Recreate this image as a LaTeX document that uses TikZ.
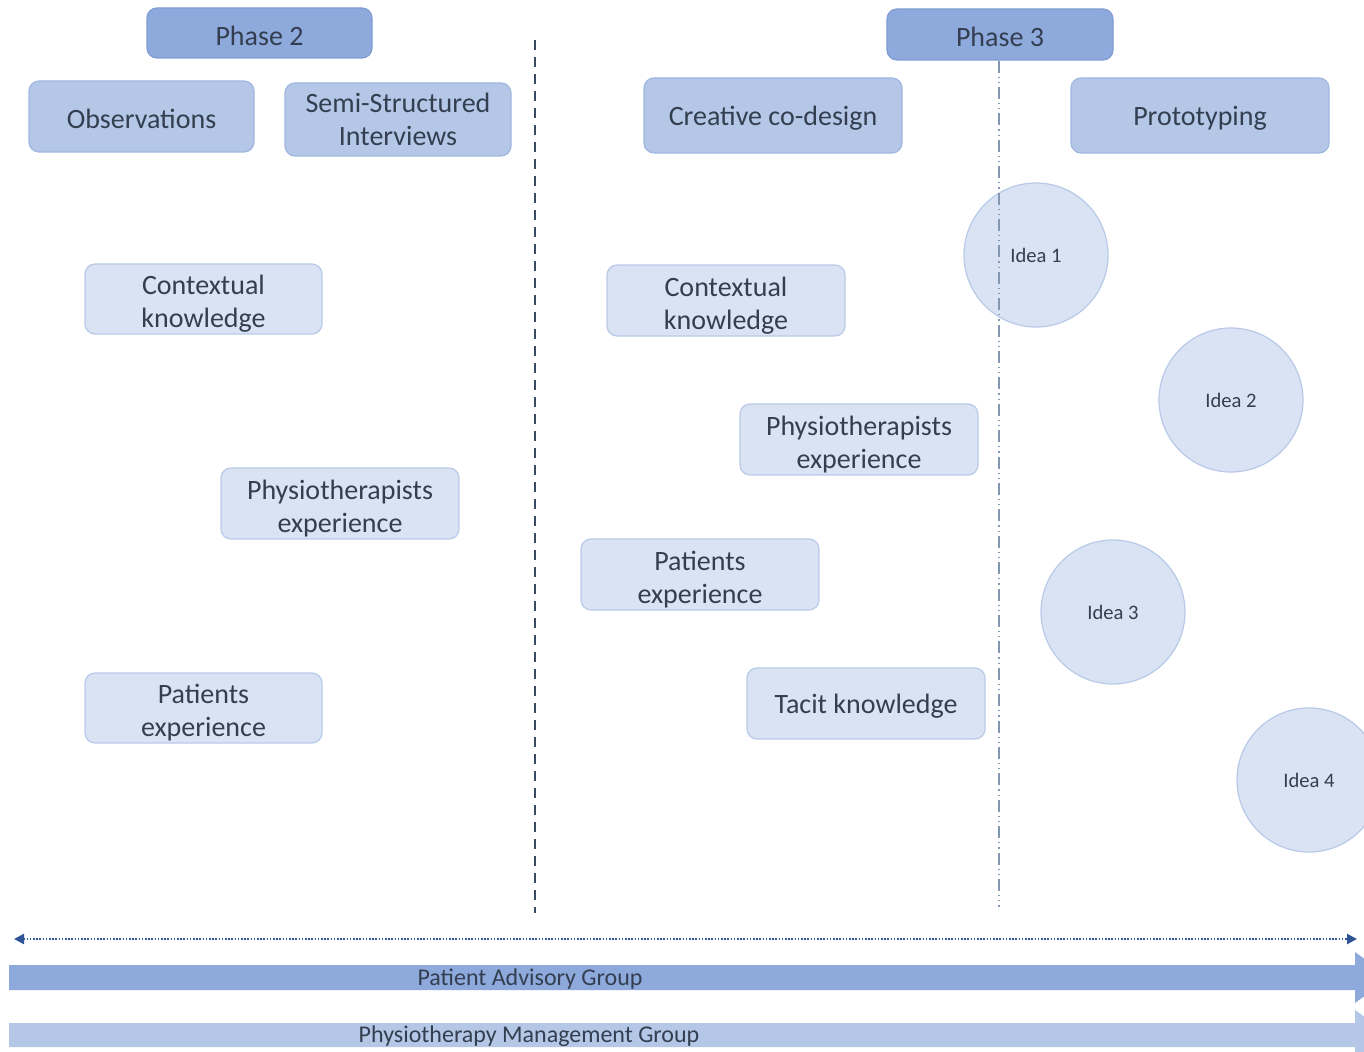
\documentclass[tikz,border=0pt]{standalone}
\usepackage{fontspec}
\setmainfont{Carlito}
\usetikzlibrary{arrows.meta}
\definecolor{phasefill}{HTML}{8EA9DB}
\definecolor{phaseline}{HTML}{7F9CD3}
\definecolor{midfill}{HTML}{B4C7E7}
\definecolor{midline}{HTML}{A0B7E0}
\definecolor{lightfill}{HTML}{DAE3F3}
\definecolor{lightline}{HTML}{B9CAE8}
\definecolor{txt}{HTML}{333F50}
\definecolor{divider}{HTML}{3A4A60}
\definecolor{subdivider}{HTML}{8497B0}
\definecolor{timeline}{HTML}{2F5597}
\tikzset{
  boxbase/.style={rounded corners=5pt, align=center, text=txt, line width=0.6pt,
    font=\fontsize{14}{16.5}\selectfont, inner xsep=2pt, inner ysep=0pt,
    execute at begin node={\rule{0pt}{12.5pt}}},
  twoline/.style={execute at begin node={\rule{0pt}{31pt}}},
  phasebox/.style={boxbase, fill=phasefill, draw=phaseline},
  methodbox/.style={boxbase, fill=midfill, draw=midline},
  themebox/.style={boxbase, fill=lightfill, draw=lightline},
  idea/.style={circle, fill=lightfill, draw=lightline, line width=0.6pt, minimum size=72pt,
    inner sep=0pt, text=txt, font=\fontsize{10.3}{12}\selectfont},
  grouplabel/.style={text=txt, font=\fontsize{12}{14}\selectfont},
}
\begin{document}
\begin{tikzpicture}[x=0.5pt, y=-0.5pt]
\useasboundingbox (0,0) rectangle (1364,1052);
\clip (0,0) rectangle (1364,1052);
\fill[white] (0,0) rectangle (1364,1052);

% Phase headers
\node[phasebox, minimum width=112.5pt, minimum height=25pt] (p2) at (259.5,33) {Phase 2};
\node[phasebox, minimum width=113pt, minimum height=25.5pt] (p3) at (1000,34.5) {Phase 3};

% Methods
\node[methodbox, minimum width=112.5pt, minimum height=35.5pt] (obs) at (141.5,116.5) {Observations};
\node[methodbox, minimum width=113pt, minimum height=36.5pt] (ssi) at (398,119.5) {Semi-Structured\\Interviews};
\node[methodbox, minimum width=129pt, minimum height=37.5pt] (ccd) at (773,115.5) {Creative co-design};
\node[methodbox, minimum width=129pt, minimum height=37.5pt] (proto) at (1200,115.5) {Prototyping};

% Phase 2 themes
\node[themebox, twoline, minimum width=118.5pt, minimum height=35pt] (ckA) at (203.5,299) {Contextual\\knowledge};
\node[themebox, twoline, minimum width=119pt, minimum height=35.5pt] (peA) at (340,503.5) {Physiotherapists\\experience};
\node[themebox, twoline, minimum width=118.5pt, minimum height=35pt] (paA) at (203.5,708) {Patients\\experience};

% Phase 3 themes
\node[themebox, twoline, minimum width=119pt, minimum height=35.5pt] (ckB) at (726,300.5) {Contextual\\knowledge};
\node[themebox, twoline, minimum width=119pt, minimum height=35.5pt] (peB) at (859,439.5) {Physiotherapists\\experience};
\node[themebox, twoline, minimum width=119pt, minimum height=35.5pt] (paB) at (700,574.5) {Patients\\experience};
\node[themebox, minimum width=119pt, minimum height=35.5pt] (tk) at (866,703.5) {Tacit knowledge};

% Ideas
\node[idea] (i1) at (1036,255) {Idea 1};
\node[idea] (i2) at (1231,400) {Idea 2};
\node[idea] (i3) at (1113,612) {Idea 3};
\node[idea] (i4) at (1309,780) {Idea 4};

% Phase divider
\coordinate (dtop) at (535,40);
\coordinate (dbot) at (535,913);
\draw[divider, line width=1.3pt, dash pattern=on 5pt off 3.5pt] (dtop) -- (dbot);

% Divider between co-design and prototyping
\coordinate (sbot) at (999,907);
\draw[subdivider, line width=0.8pt, dash pattern=on 6pt off 2pt on 0.6pt off 2pt on 0.6pt off 2pt]
  (p3.south -| sbot) -- (sbot);

% Timeline
\coordinate (tl) at (14,939);
\coordinate (tr) at (1357,939);
\draw[timeline, line width=1.2pt, dash pattern=on 0.8pt off 0.8pt,
  {Triangle[length=5pt,width=5pt]}-{Triangle[length=5pt,width=5pt]}] (tl) -- (tr);

% Stakeholder group arrows
\fill[phasefill] (9,965) -- (1355,965) -- (1355,952) -- (1390,977.5) -- (1355,1003) -- (1355,990) -- (9,990) -- cycle;
\node[grouplabel] (pag) at (530,979) {Patient Advisory Group};
\fill[midfill] (9,1023) -- (1355,1023) -- (1355,1010) -- (1390,1035) -- (1355,1060) -- (1355,1047) -- (9,1047) -- cycle;
\node[grouplabel] (pmg) at (529,1036) {Physiotherapy Management Group};
\end{tikzpicture}
\end{document}
